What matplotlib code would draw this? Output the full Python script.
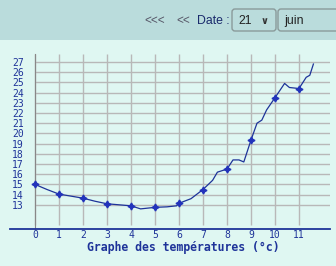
import matplotlib
matplotlib.use("Agg")
import matplotlib.pyplot as plt
from matplotlib.patches import Rectangle, FancyBboxPatch
from matplotlib.transforms import IdentityTransform

# releves de la journee (heure, temperature)
heures = [0, 0.25, 0.5, 1, 1.5, 2, 2.5, 3, 3.5, 4, 4.4, 5, 5.5, 5.9, 6, 6.5,
          7, 7.4, 7.6, 8, 8.25, 8.5, 8.7, 9, 9.25, 9.45, 9.65, 10, 10.4,
          10.6, 11, 11.3, 11.45, 11.6]
temperatures = [15.0, 14.75, 14.5, 14.05, 13.85, 13.65, 13.35, 13.1, 13.0,
                12.9, 12.6, 12.75, 12.8, 12.9, 13.15, 13.6, 14.5, 15.4, 16.2,
                16.5, 17.4, 17.4, 17.2, 19.35, 21.0, 21.3, 22.3, 23.5, 24.9,
                24.5, 24.4, 25.5, 25.7, 26.8]
graduations_x = list(range(0, 12))
graduations_y = list(range(13, 28))
titre = "Graphe des températures (°c)"
jour = "21"
mois = "juin"

W, H = 336, 266
fond = "#dff7f2"
bandeau = "#badcdc"
bleu = "#1e3399"
police = ["Liberation Sans", "DejaVu Sans"]

fig = plt.figure(figsize=(W / 100, H / 100), dpi=100, facecolor=fond)

# bandeau du haut avec la navigation
fig.patches.append(Rectangle((0, 1 - 40 / H), 1, 40 / H, transform=fig.transFigure,
                             facecolor=bandeau, edgecolor="none", zorder=0))
fy = 1 - 21 / H
fig.text(155 / W, fy, "<<<", ha="center", va="center", fontsize=8.5,
         family=police, color="#555566")
fig.text(183 / W, fy, "<<", ha="center", va="center", fontsize=8.5,
         family=police, color="#555566")
fig.text(197 / W, fy, "Date :", ha="left", va="center", fontsize=8.8,
         family=police, color="#1a2a6c")
for x0, x1, txt in [(232, 276, jour), (278, 350, mois)]:
    fig.patches.append(FancyBboxPatch((x0, H - 31), x1 - x0, 22,
                                      boxstyle="round,pad=0,rounding_size=3",
                                      transform=IdentityTransform(), facecolor=bandeau,
                                      edgecolor="#8a9a9a", linewidth=1))
    fig.text((x0 + 6) / W, fy, txt, ha="left", va="center", fontsize=8.8,
             family=police, color="#222222")
fig.text(264 / W, fy, "\u2228", ha="center", va="center", fontsize=7,
         family=police, color="#333333", weight="bold")

# zone du graphe : 24 px par heure, 10.2 px par degre
left, right, top, bottom = 10, 330, 54, 229
x0px, px_h = 35, 24.0
y27, px_d = 62, 10.2
ax = fig.add_axes([left / W, (H - bottom) / H, (right - left) / W, (bottom - top) / H])
ax.set_facecolor(fond)
xmin = (left - x0px) / px_h
xmax = (right - x0px) / px_h
ymax = 27 + (y27 - top) / px_d
ymin = 27 - (bottom - y27) / px_d
ax.set_xlim(xmin, xmax)
ax.set_ylim(ymin, ymax)

ax.vlines(graduations_x, ymin + 4 / px_d, ymax, color="#b8b8b8", linewidth=1, zorder=1)
ax.hlines(graduations_y, 0, xmax, color="#b8b8b8", linewidth=1, zorder=1)

for s in ["top", "right"]:
    ax.spines[s].set_visible(False)
ax.spines["left"].set_position(("data", 0))
ax.spines["left"].set_color("#888888")
ax.spines["bottom"].set_color(bleu)
ax.spines["bottom"].set_linewidth(1.3)

ax.set_xticks(graduations_x)
ax.set_yticks(graduations_y)
ax.tick_params(length=0, labelsize=7, labelcolor=bleu)
ax.tick_params(axis="y", pad=8)
ax.tick_params(axis="x", pad=1)
for lab in ax.get_xticklabels() + ax.get_yticklabels():
    lab.set_family("DejaVu Sans Mono")

marques = [i for i, h in enumerate(heures) if float(h).is_integer()]
ax.plot(heures, temperatures, color=bleu, linewidth=0.9, zorder=3,
        marker=(4, 1, 0), markersize=5, markevery=marques,
        markerfacecolor="#2233bb", markeredgecolor="#2233bb")

fig.text(183 / W, (H - 247) / H, titre, ha="center", va="center", fontsize=8.3,
         family="DejaVu Sans Mono", weight="bold", color=bleu)

fig.savefig("out.png", dpi=100, facecolor=fond)
